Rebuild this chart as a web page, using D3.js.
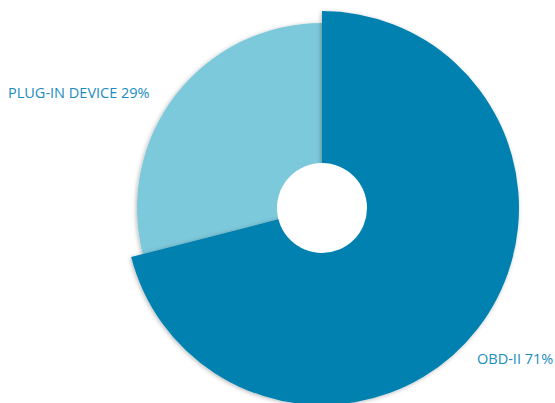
<!DOCTYPE html>
<html><head><meta charset="utf-8">
<script src="https://cdn.jsdelivr.net/npm/d3@7"></script>
<style>html,body{margin:0;padding:0;background:#fff;}svg{display:block;}</style>
</head><body>
<script>
const categories = ["OBD-II", "PLUG-IN DEVICE"];
const values = [71, 29];
const colors = ["#0081b0", "#7bc9db"];
const labels = ["OBD-II 71%", "PLUG-IN DEVICE 29%"];

const W = 555, H = 403, cx = 322, cy = 208;
const outerR = [197, 185], innerR = 45;

const svg = d3.select("body").append("svg").attr("width", W).attr("height", H);
const defs = svg.append("defs");
const f = defs.append("filter").attr("id", "sh").attr("x", "-20%").attr("y", "-20%").attr("width", "140%").attr("height", "140%");
f.append("feDropShadow").attr("dx", -1).attr("dy", 1).attr("stdDeviation", 2).attr("flood-color", "#000").attr("flood-opacity", 0.28);

const pie = d3.pie().sort(null).value(d => d)(values);
const g = svg.append("g").attr("transform", `translate(${cx},${cy})`);
// draw smaller slice first so larger one's shadow falls on it
[1, 0].forEach(i => {
  const arc = d3.arc().innerRadius(0).outerRadius(outerR[i]);
  g.append("path").attr("d", arc(pie[i])).attr("fill", colors[i]).attr("filter", "url(#sh)");
});
g.append("circle").attr("r", innerR).attr("fill", "#fff");

svg.append("text").attr("x", 8).attr("y", 97.5).text(labels[1])
  .attr("font-family", "'Open Sans', sans-serif").attr("font-size", 14.5).attr("fill", "#1a8cc0");
svg.append("text").attr("x", 477).attr("y", 363.7).text(labels[0])
  .attr("font-family", "'Open Sans', sans-serif").attr("font-size", 14.5).attr("fill", "#1a8cc0");
</script>
</body></html>
